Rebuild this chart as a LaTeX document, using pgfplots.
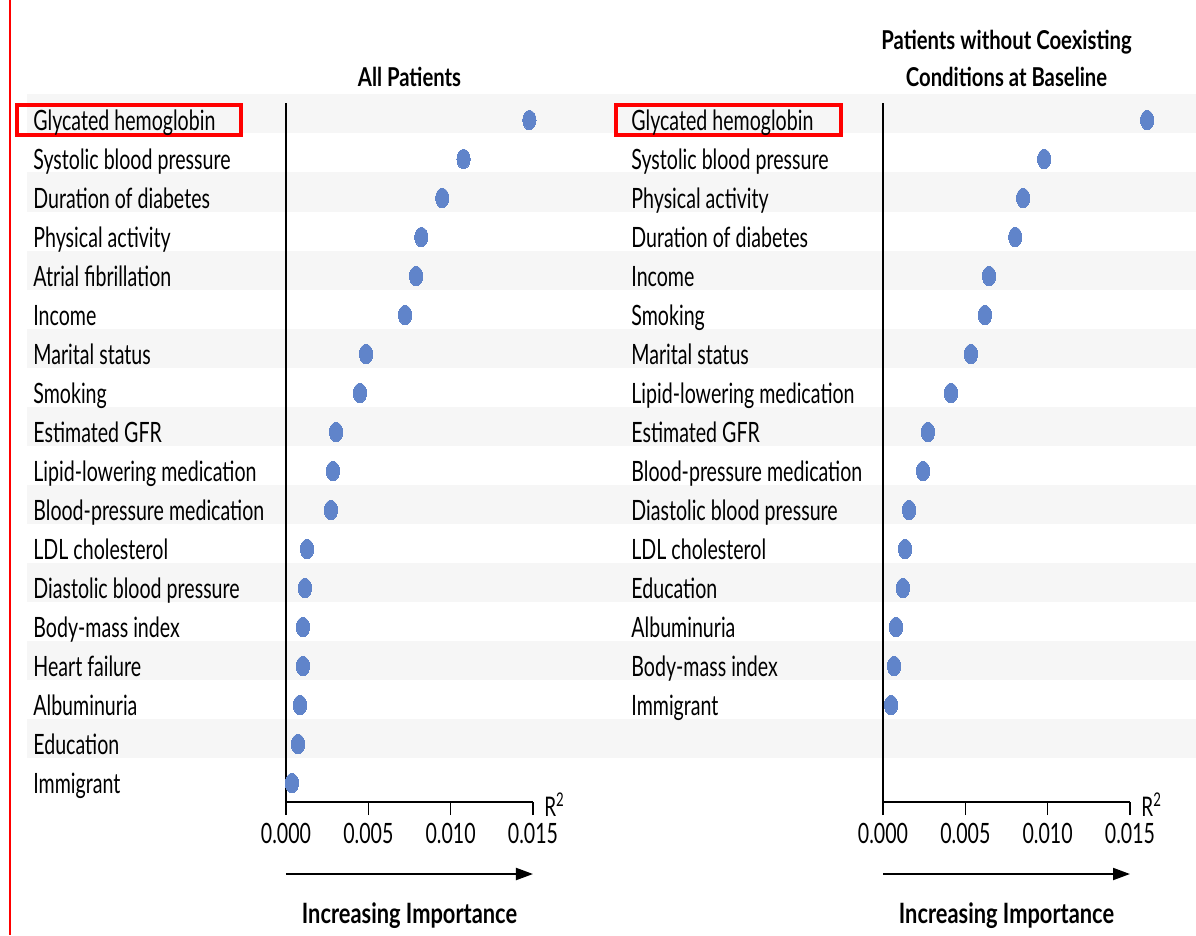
\documentclass[border=0pt]{standalone}
\usepackage{pgfplots}
\pgfplotsset{compat=1.18}
\usepackage{pgfplotstable}
\usepackage{fontspec}
\setmainfont{Lato}[FakeStretch=0.7, BoldFeatures={FakeStretch=0.78}]
\usetikzlibrary{arrows.meta}

\definecolor{dotblue}{RGB}{96,132,202}
\definecolor{stripe}{RGB}{246,246,246}

% row position (18 = top), R^2, variable
\pgfplotstableread[col sep=comma]{
row,r2,name
18,0.01478,Glycated hemoglobin
17,0.01078,Systolic blood pressure
16,0.00949,Duration of diabetes
15,0.00822,Physical activity
14,0.00790,Atrial fibrillation
13,0.00723,Income
12,0.00486,Marital status
11,0.00449,Smoking
10,0.00304,Estimated GFR
9,0.00285,Lipid-lowering medication
8,0.00273,Blood-pressure medication
7,0.00128,LDL cholesterol
6,0.00115,Diastolic blood pressure
5,0.00103,Body-mass index
4,0.00103,Heart failure
3,0.00085,Albuminuria
2,0.00073,Education
1,0.00036,Immigrant
}\allpatients

\pgfplotstableread[col sep=comma]{
row,r2,name
18,0.01604,Glycated hemoglobin
17,0.00979,Systolic blood pressure
16,0.00851,Physical activity
15,0.00803,Duration of diabetes
14,0.00644,Income
13,0.00619,Smoking
12,0.00534,Marital status
11,0.00413,Lipid-lowering medication
10,0.00273,Estimated GFR
9,0.00243,Blood-pressure medication
8,0.00158,Diastolic blood pressure
7,0.00134,LDL cholesterol
6,0.00121,Education
5,0.00079,Albuminuria
4,0.00067,Body-mass index
3,0.00049,Immigrant
}\nocoexisting

\pgfplotsset{
  panel/.style={
    scale only axis, width=123.5pt, height=349.5pt,
    xmin=0, xmax=0.015, ymin=0.513, ymax=18.436,
    axis x line*=bottom, axis y line*=left,
    axis line style={line width=0.75pt, black},
    clip=false, axis on top,
    xtick={0,0.005,0.01,0.015},
    scaled x ticks=false,
    tick align=outside, major tick length=6.5pt,
    xtick style={line width=0.75pt, black},
    ytick style={draw=none},
    ytick=data,
    tick label style={font=\fontsize{14}{16}\selectfont, black},
    xticklabel style={/pgf/number format/fixed, /pgf/number format/fixed zerofill,
      /pgf/number format/precision=3, /pgf/number format/assume math mode=true,
      anchor=base, yshift=-14pt},
    yticklabel style={anchor=base west, inner xsep=0pt, xshift=-120pt, yshift=-5pt},
    title style={at={(0.5,1)}, anchor=south, inner sep=0pt, yshift=1.8pt,
      align=center, font=\bfseries\fontsize{13}{18.5}\selectfont},
  },
  dots/.style={only marks, mark=*, mark size=4.85pt, color=dotblue,
    mark options={xscale=0.684, fill=dotblue, draw=dotblue, line width=0pt}},
}
\tikzset{
  rsq/.style={anchor=base west, inner sep=0pt, font=\fontsize{13.5}{15}\selectfont},
  importance/.style={anchor=base, font=\bfseries\fontsize{14}{16}\selectfont},
}

\begin{document}
\begin{tikzpicture}
\begin{axis}[panel, at={(0pt,0pt)}, anchor=south west,
  title={All Patients},
  yticklabels from table={\allpatients}{name}]
  % alternating row shading across both panels
  \fill[stripe] (axis cs:-0.015729,17.654) rectangle (axis cs:0.055262,18.654);
  \fill[stripe] (axis cs:-0.015729,15.654) rectangle (axis cs:0.055262,16.654);
  \fill[stripe] (axis cs:-0.015729,13.654) rectangle (axis cs:0.055262,14.654);
  \fill[stripe] (axis cs:-0.015729,11.654) rectangle (axis cs:0.055262,12.654);
  \fill[stripe] (axis cs:-0.015729,9.654) rectangle (axis cs:0.055262,10.654);
  \fill[stripe] (axis cs:-0.015729,7.654) rectangle (axis cs:0.055262,8.654);
  \fill[stripe] (axis cs:-0.015729,5.654) rectangle (axis cs:0.055262,6.654);
  \fill[stripe] (axis cs:-0.015729,3.654) rectangle (axis cs:0.055262,4.654);
  \fill[stripe] (axis cs:-0.015729,1.654) rectangle (axis cs:0.055262,2.654);
  % red margin rule and highlight box
  \draw[red, line width=1pt] (axis cs:-0.016761,21.077) -- (axis cs:-0.016761,-2.897);
  \draw[red, line width=2pt] (axis cs:-0.016336,17.608) rectangle (axis cs:-0.002733,18.392);
  \coordinate (bbTL) at (axis cs:-0.017368,21.077);
  \coordinate (bbBR) at (axis cs:0.055263,-2.897);
  \addplot[dots] table[x=r2, y=row] {\allpatients};
  \node[rsq] at ([xshift=5.5pt, yshift=-7.35pt]rel axis cs:1,0) {R\textsuperscript{2}};
  \draw[line width=1pt, -{Triangle[length=8.5pt, width=6pt]}]
    ([yshift=-36pt]rel axis cs:0,0) -- ([yshift=-36pt]rel axis cs:1,0);
  \node[importance] at ([yshift=-60.5pt]rel axis cs:0.5,0) {Increasing Importance};
\end{axis}

\begin{axis}[panel, at={(298.5pt,0pt)}, anchor=south west,
  title={Patients without Coexisting\\Conditions at Baseline},
  yticklabel style={xshift=0.5pt},
  yticklabels from table={\nocoexisting}{name}]
  \draw[red, line width=2pt] (axis cs:-0.016214,17.608) rectangle (axis cs:-0.002551,18.392);
  \addplot[dots] table[x=r2, y=row] {\nocoexisting};
  \node[rsq] at ([xshift=5.5pt, yshift=-7.35pt]rel axis cs:1,0) {R\textsuperscript{2}};
  \draw[line width=1pt, -{Triangle[length=8.5pt, width=6pt]}]
    ([yshift=-36pt]rel axis cs:0,0) -- ([yshift=-36pt]rel axis cs:1,0);
  \node[importance] at ([yshift=-60.5pt]rel axis cs:0.5,0) {Increasing Importance};
\end{axis}
\pgfresetboundingbox
\useasboundingbox (bbTL) rectangle (bbBR);
\end{tikzpicture}
\end{document}
